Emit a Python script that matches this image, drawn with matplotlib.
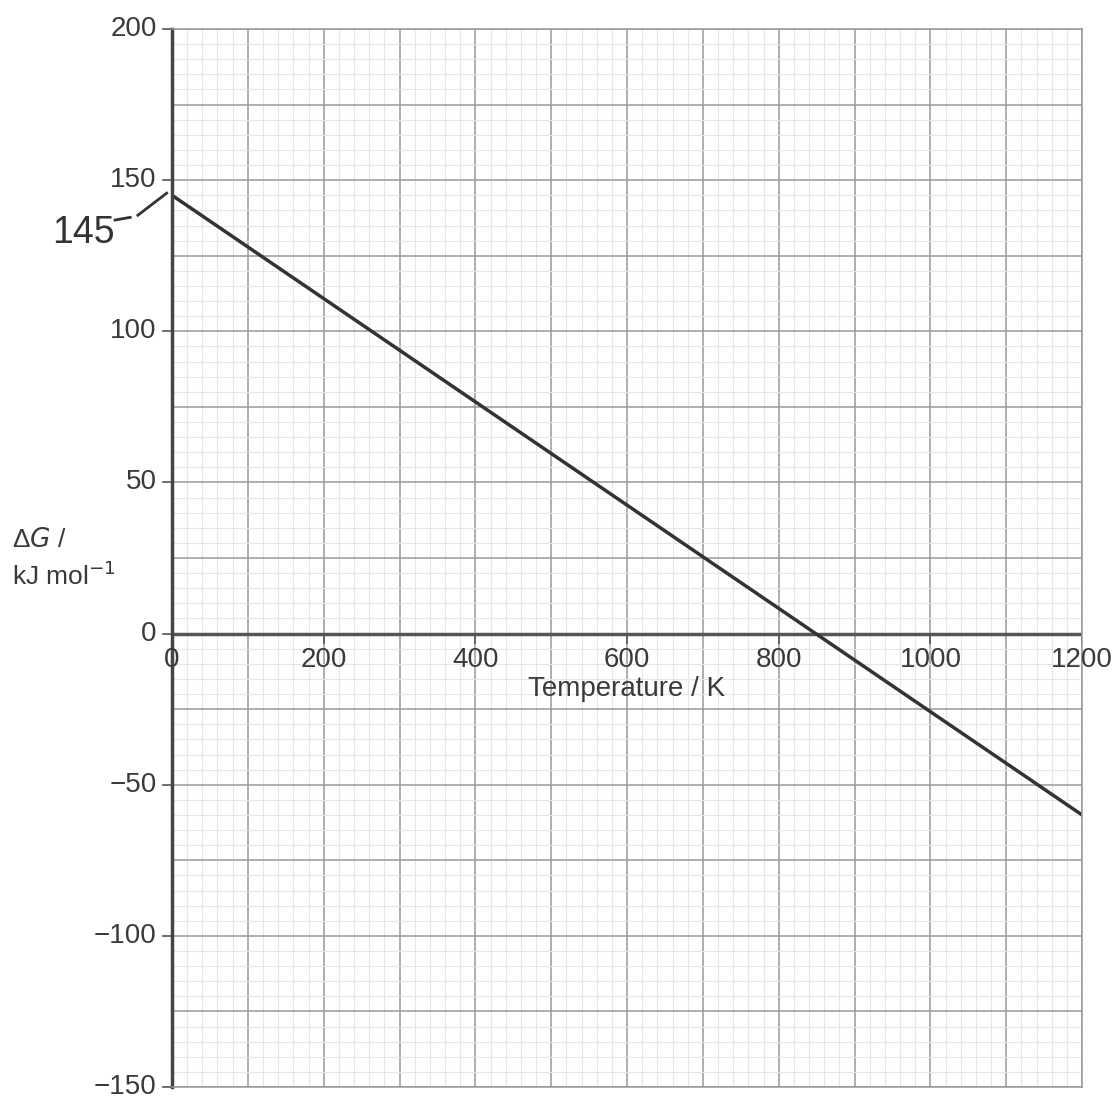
import numpy as np
import matplotlib.pyplot as plt
from matplotlib.ticker import MultipleLocator

# Data
temperature = [0, 1200]
delta_g = [145, -60]
x_ticks = [0, 200, 400, 600, 800, 1000, 1200]
y_ticks = [-150, -100, -50, 0, 50, 100, 150, 200]

plt.rcParams['font.family'] = ['Liberation Sans', 'DejaVu Sans']
txt = '#3a3a3a'

fig = plt.figure(figsize=(11.19, 10.99), dpi=100)
ax = fig.add_axes([0.1537, 0.0109, 0.8133, 0.9627])

ax.set_xlim(0, 1200)
ax.set_ylim(-150, 200)

# graph paper grid
ax.xaxis.set_major_locator(MultipleLocator(100))
ax.yaxis.set_major_locator(MultipleLocator(25))
ax.xaxis.set_minor_locator(MultipleLocator(20))
ax.yaxis.set_minor_locator(MultipleLocator(5))
ax.grid(which='minor', color='#e6e6e6', linewidth=0.8)
ax.grid(which='major', color='#999999', linewidth=1.1)
ax.set_axisbelow(True)
ax.tick_params(which='both', length=0, labelleft=False, labelbottom=False)

for side in ['top', 'right', 'bottom']:
    ax.spines[side].set_color('#999999')
    ax.spines[side].set_linewidth(1.1)
ax.spines['left'].set_color('#444444')
ax.spines['left'].set_linewidth(2.5)

# zero axis
ax.axhline(0, color='#555555', linewidth=2.5)

# y tick labels with small ticks on the left
for v in y_ticks:
    ax.plot([-12, 0], [v, v], color='#555555', lw=1.2, clip_on=False)
    ax.text(-20, v, f'{v}'.replace('-', '\u2212'), ha='right', va='center',
            fontsize=20, color=txt)

# x tick labels under the zero axis
for v in x_ticks:
    ax.plot([v, v], [0, -3], color='#555555', lw=1.2)
    ax.text(v, -4.5, str(v), ha='center', va='top', fontsize=20, color=txt)

ax.text(600, -14, 'Temperature / K', ha='center', va='top', fontsize=20, color=txt)
ax.text(-211, 31, '\u0394$G$ /', ha='left', va='center', fontsize=19, color=txt)
ax.text(-211, 19, 'kJ mol$^{-1}$', ha='left', va='center', fontsize=19, color=txt)

# the line
ax.plot(temperature, delta_g, color='#333333', linewidth=2.5)

# handwritten note
ax.plot([-45, -7], [138.4, 145.7], color='#333333', lw=2, clip_on=False)
ax.plot([-75, -55], [136.8, 137.7], color='#333333', lw=2, clip_on=False)
ax.text(-158, 132.5, '145', ha='left', va='center', fontsize=27, color='#333333')

fig.savefig('out.png', dpi=100)
